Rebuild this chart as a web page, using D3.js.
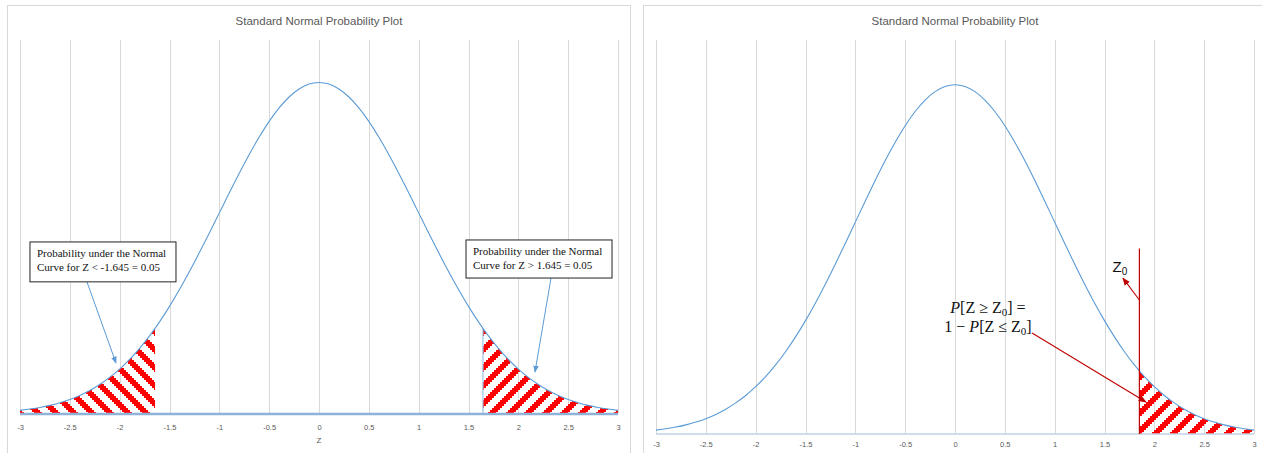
<!DOCTYPE html>
<html>
<head>
<meta charset="utf-8">
<script src="https://cdn.jsdelivr.net/npm/d3@7"></script>
<style>
  body { margin: 0; background: #fff; }
  svg { display: block; }
</style>
</head>
<body>
<svg id="chart" width="1262" height="453"></svg>
<script>
// ---- Data: standard normal density, tabulated every 0.1 ----
const zValues = [
  -3.0, -2.9, -2.8, -2.7, -2.6, -2.5, -2.4, -2.3, -2.2, -2.1,
  -2.0, -1.9, -1.8, -1.7, -1.6, -1.5, -1.4, -1.3, -1.2, -1.1,
  -1.0, -0.9, -0.8, -0.7, -0.6, -0.5, -0.4, -0.3, -0.2, -0.1,
   0.0,
   0.1,  0.2,  0.3,  0.4,  0.5,  0.6,  0.7,  0.8,  0.9,  1.0,
   1.1,  1.2,  1.3,  1.4,  1.5,  1.6,  1.7,  1.8,  1.9,  2.0,
   2.1,  2.2,  2.3,  2.4,  2.5,  2.6,  2.7,  2.8,  2.9,  3.0
];
const density = [
  0.0044, 0.0060, 0.0079, 0.0104, 0.0136, 0.0175, 0.0224, 0.0283, 0.0355, 0.0440,
  0.0540, 0.0656, 0.0790, 0.0940, 0.1109, 0.1295, 0.1497, 0.1714, 0.1942, 0.2179,
  0.2420, 0.2661, 0.2897, 0.3123, 0.3332, 0.3521, 0.3683, 0.3814, 0.3910, 0.3970,
  0.3989,
  0.3970, 0.3910, 0.3814, 0.3683, 0.3521, 0.3332, 0.3123, 0.2897, 0.2661, 0.2420,
  0.2179, 0.1942, 0.1714, 0.1497, 0.1295, 0.1109, 0.0940, 0.0790, 0.0656, 0.0540,
  0.0440, 0.0355, 0.0283, 0.0224, 0.0175, 0.0136, 0.0104, 0.0079, 0.0060, 0.0044
];

// Critical values and the density at each one
const lowerCut = -1.645, lowerCutDensity = 0.1031;
const upperCut = 1.645,  upperCutDensity = 0.1031;
const z0 = 1.85,         z0Density = 0.0721;
const z0LineTop = 0.212;

const xTicks = [-3, -2.5, -2, -1.5, -1, -0.5, 0, 0.5, 1, 1.5, 2, 2.5, 3];
const tickLabels = ["-3", "-2.5", "-2", "-1.5", "-1", "-0.5", "0", "0.5", "1", "1.5", "2", "2.5", "3"];
const yDomain = [0, 0.45];

const chartTitle = "Standard Normal Probability Plot";
const axisTitle = "Z";
const lowerNote = ["Probability under the Normal", "Curve for Z < -1.645 = 0.05"];
const upperNote = ["Probability under the Normal", "Curve for Z > 1.645 = 0.05"];

// ---- Drawing ----
const svg = d3.select("#chart");
const points = zValues.map((z, i) => ({ z, d: density[i] }));

const defs = svg.append("defs");

// 9x9 bitmap diagonal hatch, drawn at 2px per cell
function hatch(id, upward) {
  const n = 9, cell = 2;
  const p = defs.append("pattern")
    .attr("id", id).attr("patternUnits", "userSpaceOnUse")
    .attr("width", n * cell).attr("height", n * cell);
  for (let r = 0; r < n; r++) {
    for (let c = 0; c < n; c++) {
      const k = upward ? (c + r) % n : (c - r + n) % n;
      if (k < 4) {
        p.append("rect").attr("x", c * cell).attr("y", r * cell)
          .attr("width", cell).attr("height", cell).attr("fill", "#ff0000");
      }
    }
  }
}
hatch("hatchDown", false);
hatch("hatchUp", true);

function arrowMarker(id, color, size) {
  defs.append("marker")
    .attr("id", id).attr("viewBox", "0 0 10 10")
    .attr("refX", 9).attr("refY", 5)
    .attr("markerUnits", "userSpaceOnUse")
    .attr("markerWidth", size).attr("markerHeight", size)
    .attr("orient", "auto")
    .append("path").attr("d", "M0,1 L10,5 L0,9 Z").attr("fill", color);
}
arrowMarker("arrowBlue", "#5b9bd5", 7);
arrowMarker("arrowRed", "#c00000", 8);

function panel(opts) {
  const g = svg.append("g");
  const x = d3.scaleLinear().domain([xTicks[0], xTicks[xTicks.length - 1]]).range([opts.left, opts.right]);
  const y = d3.scaleLinear().domain(yDomain).range([opts.bottom, opts.top]);

  // chart frame
  g.append("rect")
    .attr("x", opts.frame[0] + 0.5).attr("y", opts.frame[1] + 0.5)
    .attr("width", opts.frame[2]).attr("height", opts.frame[3])
    .attr("fill", "#fff").attr("stroke", "#d9d9d9").attr("stroke-width", 1);

  // vertical gridlines
  g.append("g").selectAll("line").data(xTicks).join("line")
    .attr("x1", d => Math.round(x(d)) + 0.5).attr("x2", d => Math.round(x(d)) + 0.5)
    .attr("y1", opts.top).attr("y2", opts.bottom)
    .attr("stroke", "#d9d9d9").attr("stroke-width", 1);

  // tick labels
  const axis = d3.axisBottom(x).tickValues(xTicks)
    .tickFormat((d, i) => tickLabels[i]).tickSize(0).tickPadding(0);
  const ax = g.append("g").attr("transform", `translate(0,${opts.tickY})`).call(axis);
  ax.select(".domain").remove();
  ax.selectAll("text")
    .attr("dy", 0).attr("y", 0)
    .attr("font-family", "Liberation Sans, Arial, sans-serif")
    .attr("font-size", 7.5).attr("fill", "#595959");

  // title
  g.append("text")
    .attr("x", (opts.left + opts.right) / 2).attr("y", 25)
    .attr("text-anchor", "middle")
    .attr("font-family", "Liberation Sans, Arial, sans-serif")
    .attr("font-size", 11.5).attr("fill", "#595959")
    .text(chartTitle);

  return { g, x, y };
}

const line = (x, y) => d3.line().x(d => x(d.z)).y(d => y(d.d)).curve(d3.curveMonotoneX);
const area = (x, y) => d3.area().x(d => x(d.z)).y0(y(0)).y1(d => y(d.d)).curve(d3.curveMonotoneX);

// ================= Left chart: two tails =================
{
  const { g, x, y } = panel({
    frame: [7, 5, 623, 470], left: 20, right: 618, top: 40, bottom: 414, tickY: 430
  });

  const lowerTail = points.filter(p => p.z < lowerCut).concat([{ z: lowerCut, d: lowerCutDensity }]);
  const upperTail = [{ z: upperCut, d: upperCutDensity }].concat(points.filter(p => p.z > upperCut));

  g.append("path").datum(lowerTail).attr("d", area(x, y)).attr("fill", "url(#hatchDown)");
  g.append("path").datum(upperTail).attr("d", area(x, y)).attr("fill", "url(#hatchUp)");
  // edge of the upper tail region
  g.append("line")
    .attr("x1", x(upperCut)).attr("x2", x(upperCut))
    .attr("y1", y(0)).attr("y2", y(upperCutDensity))
    .attr("stroke", "#9dc3e6").attr("stroke-width", 1.2);

  // baseline
  g.append("line")
    .attr("x1", x(-3)).attr("x2", x(3)).attr("y1", y(0)).attr("y2", y(0))
    .attr("stroke", "#8fb2d9").attr("stroke-width", 2.5);

  g.append("path").datum(points).attr("d", line(x, y))
    .attr("fill", "none").attr("stroke", "#5b9bd5").attr("stroke-width", 1.1);

  g.append("text")
    .attr("x", (x(-3) + x(3)) / 2).attr("y", 443).attr("text-anchor", "middle")
    .attr("font-family", "Liberation Sans, Arial, sans-serif")
    .attr("font-size", 8).attr("fill", "#595959").text(axisTitle);

  // annotation boxes with arrows
  function note(lines, box, from, to) {
    g.append("line")
      .attr("x1", x(from[0])).attr("y1", y(from[1]))
      .attr("x2", x(to[0])).attr("y2", y(to[1]))
      .attr("stroke", "#5b9bd5").attr("stroke-width", 1)
      .attr("marker-end", "url(#arrowBlue)");
    const bx = x(box[0]), by = y(box[1]);
    const bw = x(box[2]) - bx, bh = y(box[3]) - by;
    g.append("rect").attr("x", bx).attr("y", by).attr("width", bw).attr("height", bh)
      .attr("fill", "#fff").attr("stroke", "#222").attr("stroke-width", 1);
    g.append("text")
      .attr("font-family", "Liberation Serif, Times New Roman, serif")
      .attr("font-size", 11).attr("fill", "#111")
      .selectAll("tspan").data(lines).join("tspan")
      .attr("x", bx + 7).attr("y", (d, i) => by + 15 + i * 14)
      .text(d => d);
  }
  note(lowerNote, [-2.9, 0.207, -1.435, 0.159], [-2.328, 0.159], [-2.037, 0.0614]);
  note(upperNote, [1.475, 0.2094, 2.94, 0.1636], [2.328, 0.1636], [2.167, 0.0505]);
}

// ================= Right chart: upper tail beyond Z0 =================
{
  const { g, x, y } = panel({
    frame: [643, 5, 640, 470], left: 656, right: 1254, top: 40, bottom: 434, tickY: 447
  });

  const tail = [{ z: z0, d: z0Density }].concat(points.filter(p => p.z > z0));
  g.append("path").datum(tail).attr("d", area(x, y)).attr("fill", "url(#hatchUp)");

  g.append("line")
    .attr("x1", x(-3)).attr("x2", x(3)).attr("y1", y(0)).attr("y2", y(0))
    .attr("stroke", "#c3d2e4").attr("stroke-width", 1.5);

  g.append("path").datum(points).attr("d", line(x, y))
    .attr("fill", "none").attr("stroke", "#5b9bd5").attr("stroke-width", 1.1);

  // Z0 marker line
  g.append("line")
    .attr("x1", x(z0)).attr("x2", x(z0)).attr("y1", y(0)).attr("y2", y(z0LineTop))
    .attr("stroke", "#c00000").attr("stroke-width", 1.2);

  // Z0 label and pointer
  const zl = g.append("text")
    .attr("x", x(1.58)).attr("y", y(0.185))
    .attr("font-family", "Liberation Sans, Arial, sans-serif")
    .attr("font-size", 15).attr("fill", "#111");
  zl.append("tspan").text("Z");
  zl.append("tspan").attr("font-size", 10).attr("dy", 3).text("0");
  g.append("line")
    .attr("x1", x(z0)).attr("y1", y(0.153))
    .attr("x2", x(1.685)).attr("y2", y(0.178))
    .attr("stroke", "#c00000").attr("stroke-width", 1.1)
    .attr("marker-end", "url(#arrowRed)");

  // probability expression
  const mathFont = "Liberation Serif, Times New Roman, serif";
  const cx = x(0.331);
  const l1 = g.append("text").attr("x", cx).attr("y", y(0.138)).attr("text-anchor", "middle")
    .attr("font-family", mathFont).attr("font-size", 16).attr("fill", "#111");
  l1.append("tspan").attr("font-style", "italic").text("P");
  l1.append("tspan").text("[Z \u2265 Z");
  l1.append("tspan").attr("font-size", 11).attr("dy", 3).text("0");
  l1.append("tspan").attr("dy", -3).text("] =");
  const l2 = g.append("text").attr("x", cx).attr("y", y(0.1165)).attr("text-anchor", "middle")
    .attr("font-family", mathFont).attr("font-size", 16).attr("fill", "#111");
  l2.append("tspan").text("1 \u2212 ");
  l2.append("tspan").attr("font-style", "italic").text("P");
  l2.append("tspan").text("[Z \u2264 Z");
  l2.append("tspan").attr("font-size", 11).attr("dy", 3).text("0");
  l2.append("tspan").attr("dy", -3).text("]");

  g.append("line")
    .attr("x1", x(0.773)).attr("y1", y(0.1154))
    .attr("x2", x(1.916)).attr("y2", y(0.0365))
    .attr("stroke", "#c00000").attr("stroke-width", 1.1)
    .attr("marker-end", "url(#arrowRed)");
}
</script>
</body>
</html>
